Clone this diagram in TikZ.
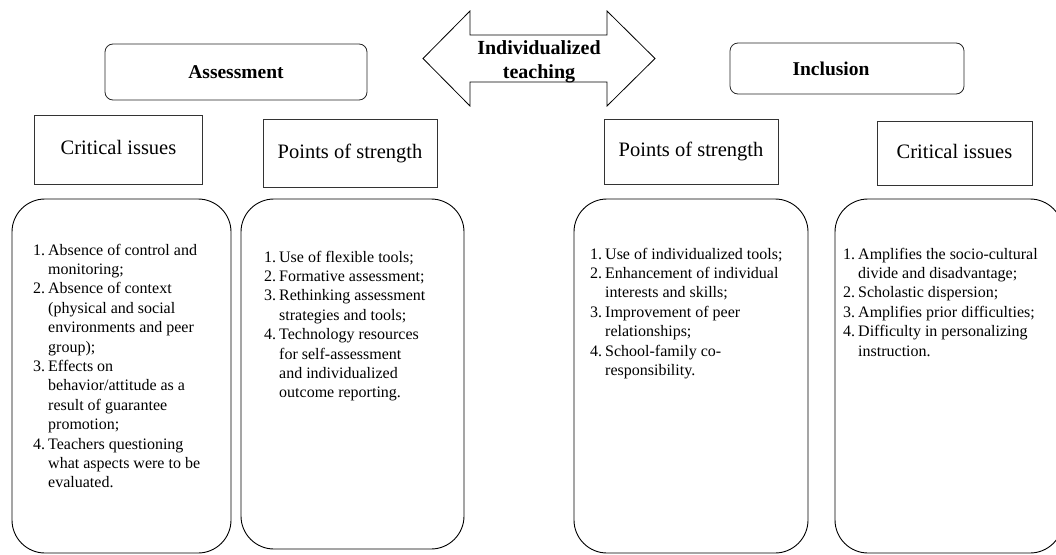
\documentclass[tikz,border=0pt]{standalone}
\usepackage{fontspec}
\setmainfont{Liberation Serif}
\newcommand{\nitem}[1]{\makebox[15pt][l]{#1}}
\newcommand{\contl}{\hspace*{15pt}}
\begin{document}
\begin{tikzpicture}[x=1pt,y=-1pt,
  hdr/.style={draw=black!80, line width=0.7pt, rectangle, inner sep=0pt,
    font=\fontsize{20.5}{24}\selectfont, text height=14pt, text depth=4pt},
  topic/.style={draw=black!85, line width=0.8pt, rounded corners=8pt, inner sep=0pt},
  topictxt/.style={inner sep=0pt, font=\bfseries\fontsize{19.5}{24}\selectfont, text height=13.5pt, text depth=0pt},
  panel/.style={draw=black, line width=0.9pt, rounded corners=33pt, inner sep=0pt},
  lst/.style={anchor=base west, inner sep=0pt, font=\fontsize{16}{19.4}\selectfont},
  bigarrow/.style={draw=black, line width=0.8pt, line join=miter}]
\useasboundingbox (0,0) rectangle (1056,554);
\clip (0,0) rectangle (1056,554);

% topic boxes
\node[topic, minimum width=262pt, minimum height=56pt] (assess) at (236,72) {};
\node[topictxt] (assesst) at (236,72) {Assessment};
\node[topic, minimum width=234pt, minimum height=51pt] (incl) at (847,68.5) {};
\node[topictxt] (inclt) at (831,69) {Inclusion};

% double arrow
\coordinate (aL) at (423,58.5);
\coordinate (aR) at (655,58.5);
\draw[bigarrow] (aL) -- (470,11) -- (470,35) -- (607,35) -- (607,11) -- (aR)
  -- (607,106) -- (607,82) -- (470,82) -- (470,106) -- cycle;
\node[anchor=base, inner sep=0pt, font=\bfseries\fontsize{20}{24}\selectfont] (arrowtxt) at (539,54)
  {\parbox[t]{160pt}{\centering Individualized\\ teaching}};

% header boxes
\node[hdr, minimum width=168pt, minimum height=69pt] (ciL) at (118.5,149.5) {Critical issues};
\node[hdr, minimum width=174pt, minimum height=68pt] (psL) at (350,153) {Points of strength};
\node[hdr, minimum width=174pt, minimum height=65pt] (psR) at (691,151.5) {Points of strength};
\node[hdr, minimum width=155pt, minimum height=64pt] (ciR) at (954.5,153) {Critical issues};

% panels
\node[panel, minimum width=219pt, minimum height=354pt] (p1) at (121.5,376) {};
\node[panel, minimum width=223pt, minimum height=350pt] (p2) at (352.5,374) {};
\node[panel, minimum width=234pt, minimum height=354pt] (p3) at (691,376) {};
\node[panel, minimum width=228pt, minimum height=354pt] (p4) at (949,376) {};

% lists
\node[lst] (l1) at (33,255) {\parbox[t]{220pt}{\raggedright
\nitem{1.}Absence of control and\\
\contl monitoring;\\
\nitem{2.}Absence of context\\
\contl (physical and social\\
\contl environments and peer\\
\contl group);\\
\nitem{3.}Effects on\\
\contl behavior/attitude as a\\
\contl result of guarantee\\
\contl promotion;\\
\nitem{4.}Teachers questioning\\
\contl what aspects were to be\\
\contl evaluated.}};

\node[lst] (l2) at (264,262) {\parbox[t]{220pt}{\raggedright
\nitem{1.}Use of flexible tools;\\
\nitem{2.}Formative assessment;\\
\nitem{3.}Rethinking assessment\\
\contl strategies and tools;\\
\nitem{4.}Technology resources\\
\contl for self-assessment\\
\contl and individualized\\
\contl outcome reporting.}};

\node[lst] (l3) at (590,259) {\parbox[t]{230pt}{\raggedright
\nitem{1.}Use of individualized tools;\\
\nitem{2.}Enhancement of individual\\
\contl interests and skills;\\
\nitem{3.}Improvement of peer\\
\contl relationships;\\
\nitem{4.}School-family co-\\
\contl responsibility.}};

\node[lst] (l4) at (843,259) {\parbox[t]{230pt}{\raggedright
\nitem{1.}Amplifies the socio-cultural\\
\contl divide and disadvantage;\\
\nitem{2.}Scholastic dispersion;\\
\nitem{3.}Amplifies prior difficulties;\\
\nitem{4.}Difficulty in personalizing\\
\contl instruction.}};
\end{tikzpicture}
\end{document}
